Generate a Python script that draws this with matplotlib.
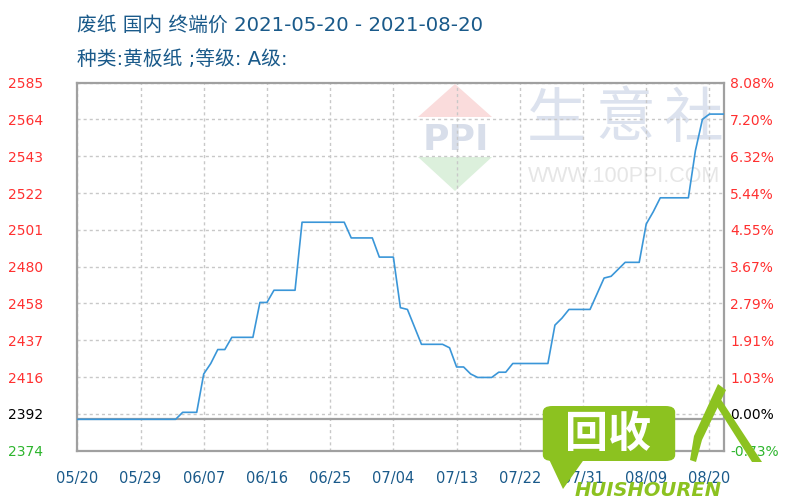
import matplotlib
matplotlib.use("Agg")
import matplotlib.pyplot as plt
import numpy as np
import pandas as pd
from matplotlib.patches import Polygon, FancyBboxPatch

# ---------------- data ----------------
title = "废纸 国内 终端价 2021-05-20 - 2021-08-20"
subtitle = "种类:黄板纸 ;等级: A级:"
start_date = "2021-05-20"
end_date = "2021-08-20"
base_price = 2392

prices = (
    [2392] * 15 + [2396] * 3 + [2418, 2424] + [2432] * 2 + [2439] * 4
    + [2459] * 2 + [2466] * 4 + [2505] * 7 + [2496] * 4 + [2485] * 3
    + [2456, 2455, 2445] + [2435] * 4 + [2433] + [2422] * 2 + [2418]
    + [2416] * 3 + [2419] * 2 + [2424] * 6 + [2446, 2450] + [2455] * 4
    + [2464, 2473, 2474, 2478] + [2482] * 3 + [2504, 2511] + [2519] * 5
    + [2546, 2564] + [2567] * 3
)

x_tick_labels = ["05/20", "05/29", "06/07", "06/16", "06/25", "07/04",
                 "07/13", "07/22", "07/31", "08/09", "08/20"]
left_tick_labels = ["2374", "2392", "2416", "2437", "2458", "2480",
                    "2501", "2522", "2543", "2564", "2585"]
right_tick_labels = ["-0.73%", "0.00%", "1.03%", "1.91%", "2.79%", "3.67%",
                     "4.55%", "5.44%", "6.32%", "7.20%", "8.08%"]
y_min, y_max = 2374, 2585

# ---------------- figure ----------------
W, H = 800, 500
fig = plt.figure(figsize=(8, 5), dpi=100)
ax = fig.add_axes([77.3 / W, 1 - 450.7 / H, (723.5 - 77.3) / W, (450.7 - 82.7) / H])

def fp(x, y):
    return (x / W, 1 - y / H)

dates = pd.date_range(start_date, end_date, freq="D")
ax.plot(dates, prices, color="#3a96d8", lw=1.2, zorder=3)
ax.axhline(base_price, color="#a0a0a0", lw=1.6, zorder=2)

ax.set_xlim(dates[0], dates[-1])
ax.set_ylim(y_min, y_max)
yt = np.linspace(y_min, y_max, len(left_tick_labels))
ax.set_yticks(yt)
ax.set_yticklabels(left_tick_labels)
ax.set_xticks(dates[::9][:len(x_tick_labels)])
ax.set_xticklabels(x_tick_labels)

ax.set_axisbelow(True)
ax.grid(True, ls=(0, (2.2, 2.2)), color="#c8c8c8", lw=1.0)
for s in ax.spines.values():
    s.set_color("#a0a0a0")
    s.set_linewidth(1.6)

ax.tick_params(axis="y", length=0, pad=24.5, labelsize=10)
ax.tick_params(axis="x", length=0, pad=14.5, labelsize=10.5, labelcolor="#1a5a8a")

ax2 = ax.twinx()
ax2.set_ylim(y_min, y_max)
ax2.set_yticks(yt)
ax2.set_yticklabels(right_tick_labels)
ax2.tick_params(axis="y", length=0, pad=4.7, labelsize=10)
for s in ax2.spines.values():
    s.set_visible(False)

def color_for(i):
    if i == 0:
        return "#2db52d"
    if i == 1:
        return "#000000"
    return "#ff3030"

for i, t in enumerate(ax.get_yticklabels()):
    t.set_color(color_for(i))
for i, t in enumerate(ax2.get_yticklabels()):
    t.set_color(color_for(i))

# ---------------- titles ----------------
tfam = ["DejaVu Sans", "Noto Sans CJK SC"]
fig.text(*fp(77, 25), title, ha="left", va="center", fontsize=14.2,
         color="#1a5a8a", family=tfam)
fig.text(*fp(77, 59), subtitle, ha="left", va="center", fontsize=14.2,
         color="#1a5a8a", family=tfam)

# ---------------- 100ppi watermark ----------------
tf = fig.transFigure
pink = Polygon([fp(418, 117), fp(492, 117), fp(455, 84)], closed=True,
               facecolor="#fadcdc", edgecolor="none", transform=tf, zorder=0.2)
green = Polygon([fp(418, 157), fp(492, 157), fp(455, 191)], closed=True,
                facecolor="#dcf0dc", edgecolor="none", transform=tf, zorder=0.2)
ax.add_artist(pink)
ax.add_artist(green)
ax.text(*fp(456, 140), "PPI", transform=tf, ha="center", va="center",
        fontsize=26, fontweight="bold", color="#d8deea", family="DejaVu Sans",
        zorder=0.2)
for ch, cx in zip("生意社", [557, 625, 693]):
    ax.text(*fp(cx, 120), ch, transform=tf, ha="center", va="center",
            fontsize=43, color="#dce2ee",
            family="Noto Sans CJK SC", zorder=0.2)
ax.text(*fp(624, 177), "WWW.100PPI.COM", transform=tf, ha="center", va="center",
        fontsize=15.5, color="#e6e6e6", family="Liberation Sans", zorder=0.2)

# ---------------- green overlay logo ----------------
lg = "#8cc220"
bubble = FancyBboxPatch(fp(546, 459), (672 - 546) / W, (459 - 408) / H,
                        boxstyle="round,pad=0.004,rounding_size=0.012",
                        facecolor=lg, edgecolor="none", transform=tf, zorder=10)
fig.add_artist(bubble)
tail = Polygon([fp(547, 455), fp(585, 458), fp(563, 489)], closed=True,
               facecolor=lg, edgecolor="none", transform=tf, zorder=10)
fig.add_artist(tail)
fig.text(*fp(608, 434), "回收", ha="center", va="center", fontsize=31,
         fontweight="bold", color="white", family="Noto Sans CJK SC", zorder=11)
fig.text(*fp(648, 491), "HUISHOUREN", ha="center", va="center", fontsize=14,
         fontweight="bold", style="italic", color=lg, family="DejaVu Sans", zorder=11)
left_leg = Polygon([fp(718, 384), fp(726, 390), fp(702, 440), fp(696, 462),
                    fp(690, 460), fp(694, 436)], closed=True,
                   facecolor=lg, edgecolor="none", transform=tf, zorder=10)
right_leg = Polygon([fp(714, 402), fp(720, 398), fp(762, 462), fp(752, 462)], closed=True,
                    facecolor=lg, edgecolor="none", transform=tf, zorder=10)
fig.add_artist(left_leg)
fig.add_artist(right_leg)

fig.savefig("out.png", dpi=100)
